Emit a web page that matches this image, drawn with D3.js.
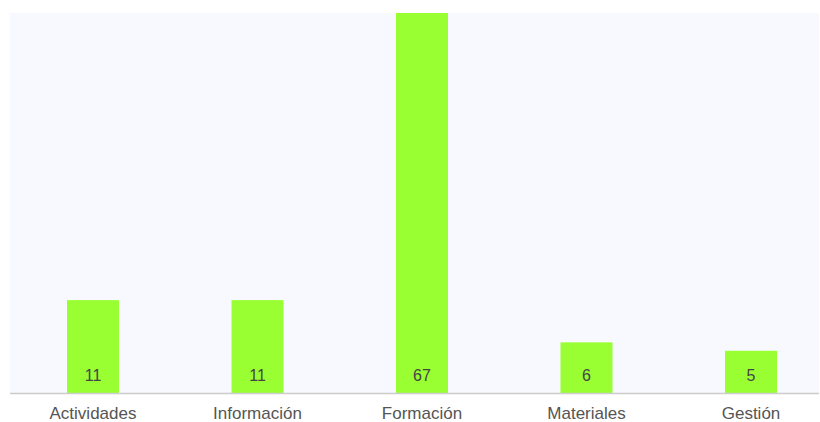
<!DOCTYPE html>
<html>
<head>
<meta charset="utf-8">
<script src="https://cdn.jsdelivr.net/npm/d3@7"></script>
<style>
  body { margin: 0; background: #ffffff; }
  text { font-family: "Liberation Sans", Arial, sans-serif; }
</style>
</head>
<body>
<div id="chart"></div>
<script>
// categories and values
var categories = ['Actividades', 'Información', 'Formación', 'Materiales', 'Gestión'];
var values = [11, 11, 67, 6, 5];
var yMax = 45; // axis top, the tall bar runs past it and gets clipped

var width = 820;
var height = 422;
var plot = {left: 10, right: 819, top: 13, bottom: 393};

var svg = d3.select("#chart").append("svg")
            .attr("width", width)
            .attr("height", height);

// plot background
svg.append("rect")
   .attr("x", plot.left)
   .attr("y", plot.top)
   .attr("width", plot.right - plot.left)
   .attr("height", plot.bottom - plot.top)
   .style("fill", "#f8f9fe");

svg.append("clipPath").attr("id", "plotClip")
   .append("rect")
   .attr("x", plot.left)
   .attr("y", plot.top)
   .attr("width", plot.right - plot.left)
   .attr("height", plot.bottom - plot.top);

var x = d3.scaleBand()
          .domain(categories)
          .range([10.75, 833.25])
          .paddingInner(0.684)
          .paddingOuter(0.342);

var y = d3.scaleLinear()
          .domain([0, yMax])
          .range([plot.bottom, plot.top]);

var bars = svg.append("g").attr("clip-path", "url(#plotClip)");

bars.selectAll("rect")
    .data(values)
    .enter()
    .append("rect")
    .attr("x", function (d, i) { return x(categories[i]); })
    .attr("y", function (d) { return y(d); })
    .attr("width", x.bandwidth())
    .attr("height", function (d) { return plot.bottom - y(d); })
    .style("fill", "#99ff33");

// value labels near the bottom of each bar
svg.selectAll("text.value")
   .data(values)
   .enter()
   .append("text")
   .attr("class", "value")
   .attr("x", function (d, i) { return x(categories[i]) + x.bandwidth() / 2; })
   .attr("y", plot.bottom - 12)
   .attr("text-anchor", "middle")
   .style("font-size", "16px")
   .style("fill", "#444444")
   .text(function (d) { return d; });

// x axis
var xAxis = svg.append("g")
               .attr("transform", "translate(0," + plot.bottom + ")")
               .call(d3.axisBottom(x).tickSize(0).tickPadding(14));

xAxis.select(".domain").remove();
xAxis.append("line")
     .attr("x1", plot.left)
     .attr("x2", plot.right)
     .attr("y1", 0.5)
     .attr("y2", 0.5)
     .style("stroke", "#cccccc")
     .style("stroke-width", 1.5);

xAxis.selectAll("text")
     .style("font-family", "'Liberation Sans', Arial, sans-serif")
     .style("font-size", "17px")
     .style("fill", "#555555");
</script>
</body>
</html>
